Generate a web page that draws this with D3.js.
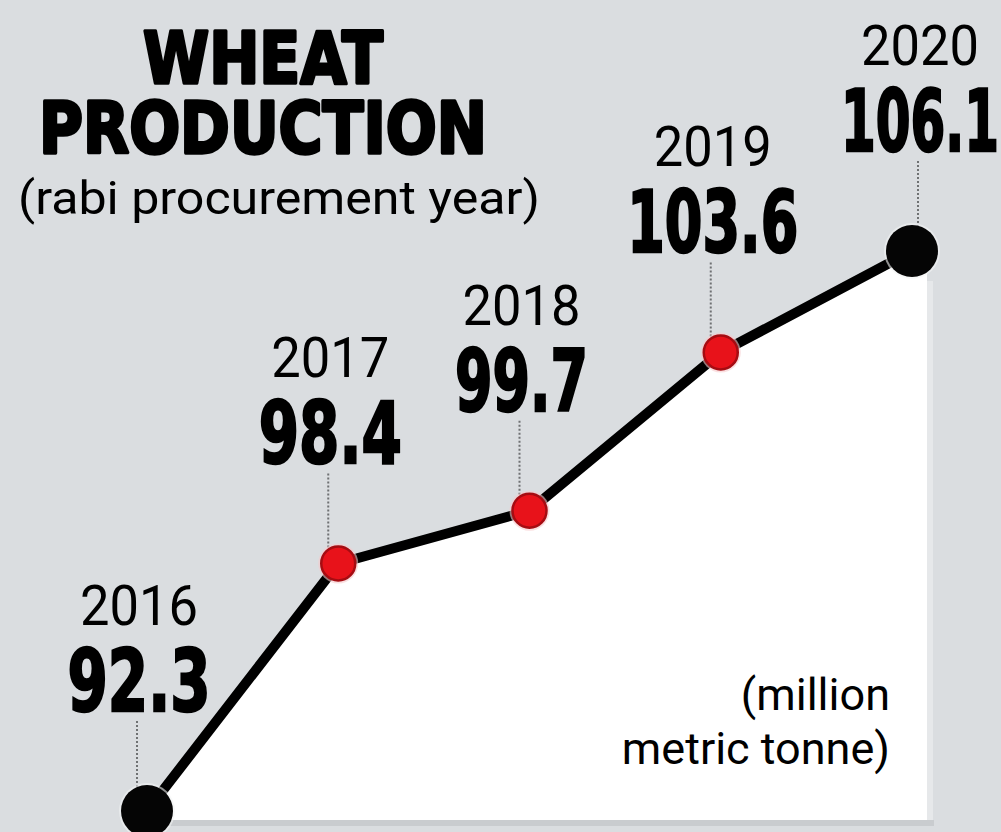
<!DOCTYPE html>
<html>
<head>
<meta charset="utf-8">
<script src="https://cdn.jsdelivr.net/npm/d3@7"></script>
<style>
  html, body { margin: 0; padding: 0; background: #dadde0; }
  svg { display: block; }
</style>
</head>
<body>
<div id="chart"></div>
<script>
// chart data
const years = ["2016", "2017", "2018", "2019", "2020"];
const values = [92.3, 98.4, 99.7, 103.6, 106.1];
const titleLines = ["WHEAT", "PRODUCTION"];
const subtitle = "(rabi procurement year)";
const unitLines = ["(million", "metric tonne)"];

const W = 1001, H = 832;
const data = years.map((yr, i) => ({ year: yr, value: values[i] }));
const lastIdx = data.length - 1;

const svg = d3.select("#chart").append("svg")
    .attr("width", W)
    .attr("height", H);

svg.append("rect")
    .attr("width", W).attr("height", H)
    .attr("fill", "#dadde0");

const x = d3.scalePoint()
    .domain(years)
    .range([147, 912]);

const y = d3.scaleLinear()
    .domain([92.3, 106.1])
    .range([811, 251]);

const bottom = 820;

// white area under the line
const first = data[0], last = data[lastIdx];
const areaPts = data.map(d => [x(d.year), y(d.value)]);
areaPts.push([x(last.year) + 15, y(last.value) + 22]);
areaPts.push([x(last.year) + 15, bottom]);
areaPts.push([x(first.year), bottom]);

// soft shadow strips round the white block
svg.append("rect")
    .attr("x", x(first.year))
    .attr("y", bottom)
    .attr("width", x(last.year) + 22 - x(first.year))
    .attr("height", 6)
    .attr("fill", "#c9cccf");
svg.append("rect")
    .attr("x", x(last.year) + 15)
    .attr("y", y(last.value) + 30)
    .attr("width", 6)
    .attr("height", bottom - y(last.value) - 30)
    .attr("fill", "#e6e8ea");

svg.append("path")
    .attr("d", "M" + areaPts.join("L") + "Z")
    .attr("fill", "#ffffff");

// label positions (last one nudged right like the print version)
const valueBase = d => y(d.value) - 100;
const labelX = (d, i) => x(d.year) + (i === lastIdx ? 8 : -8);

// the condensed print face has narrow 1s and 7s
const glyphW = ch => ch === "." ? 20 : ch === "1" ? 28 : ch === "7" ? 31 : 41;
const valueText = d => d.value.toFixed(1);
const valueLen = d => d3.sum(valueText(d).split(""), glyphW);

// dotted leaders
svg.selectAll(".leader")
    .data(data)
    .enter()
    .append("line")
    .attr("class", "leader")
    .attr("x1", (d, i) => labelX(d, i) - 2)
    .attr("x2", (d, i) => labelX(d, i) - 2)
    .attr("y1", d => valueBase(d) + 10)
    .attr("y2", d => y(d.value) - 12)
    .attr("stroke", "#6f7173")
    .attr("stroke-width", 2)
    .attr("stroke-dasharray", "2,2");

// line
svg.append("path")
    .datum(data)
    .attr("fill", "none")
    .attr("stroke", "#000")
    .attr("stroke-width", 10)
    .attr("stroke-linejoin", "round")
    .attr("d", d3.line().x(d => x(d.year)).y(d => y(d.value)));

// markers: ends black, middle red
const isEnd = (d, i) => i === 0 || i === lastIdx;
svg.selectAll(".halo")
    .data(data)
    .enter()
    .append("circle")
    .attr("class", "halo")
    .attr("cx", d => x(d.year))
    .attr("cy", d => y(d.value))
    .attr("r", (d, i) => isEnd(d, i) ? 28 : 20)
    .attr("fill", (d, i) => isEnd(d, i) ? "#f2f3f4" : "#f6c9cb")
    .attr("opacity", 0.6);

svg.selectAll(".dot")
    .data(data)
    .enter()
    .append("circle")
    .attr("class", "dot")
    .attr("cx", d => x(d.year))
    .attr("cy", d => y(d.value))
    .attr("r", (d, i) => isEnd(d, i) ? 26 : 17)
    .attr("fill", (d, i) => isEnd(d, i) ? "#050505" : "#e8121a")
    .attr("stroke", (d, i) => isEnd(d, i) ? "none" : "#a60c12")
    .attr("stroke-width", 2.5);

// year labels
svg.selectAll(".yr")
    .data(data)
    .enter()
    .append("text")
    .attr("class", "yr")
    .attr("x", labelX)
    .attr("y", d => valueBase(d) - 86)
    .attr("text-anchor", "middle")
    .attr("font-family", "Roboto, 'Liberation Sans', sans-serif")
    .attr("font-size", 56)
    .attr("textLength", 118)
    .attr("lengthAdjust", "spacingAndGlyphs")
    .attr("fill", "#000")
    .text(d => d.year);

// value labels
svg.selectAll(".val")
    .data(data)
    .enter()
    .append("text")
    .attr("class", "val")
    .attr("x", labelX)
    .attr("y", valueBase)
    .attr("text-anchor", "middle")
    .attr("font-family", "'DejaVu Sans Condensed', 'DejaVu Sans', sans-serif")
    .attr("font-weight", "bold")
    .attr("font-size", 86)
    .attr("textLength", valueLen)
    .attr("lengthAdjust", "spacingAndGlyphs")
    .attr("stroke", "#000")
    .attr("stroke-width", 2.5)
    .attr("fill", "#000")
    .text(valueText);

// title
const titleW = [240, 448];
svg.selectAll(".title")
    .data(titleLines)
    .enter()
    .append("text")
    .attr("class", "title")
    .attr("x", 263)
    .attr("y", (d, i) => 83 + i * 70)
    .attr("text-anchor", "middle")
    .attr("font-family", "'DejaVu Sans', sans-serif")
    .attr("font-weight", "bold")
    .attr("font-size", 72)
    .attr("textLength", (d, i) => titleW[i])
    .attr("lengthAdjust", "spacingAndGlyphs")
    .attr("stroke", "#000")
    .attr("stroke-width", 3.5)
    .attr("stroke-linejoin", "round")
    .attr("fill", "#000")
    .text(d => d);

svg.append("text")
    .attr("x", 18)
    .attr("y", 214)
    .attr("font-family", "Roboto, sans-serif")
    .attr("font-size", 46)
    .attr("textLength", 522)
    .attr("lengthAdjust", "spacingAndGlyphs")
    .attr("fill", "#000")
    .text(subtitle);

// unit note
svg.selectAll(".unit")
    .data(unitLines)
    .enter()
    .append("text")
    .attr("class", "unit")
    .attr("x", 890)
    .attr("y", (d, i) => 710 + i * 54)
    .attr("text-anchor", "end")
    .attr("font-family", "Roboto, sans-serif")
    .attr("font-size", 45)
    .attr("fill", "#000")
    .text(d => d);
</script>
</body>
</html>
